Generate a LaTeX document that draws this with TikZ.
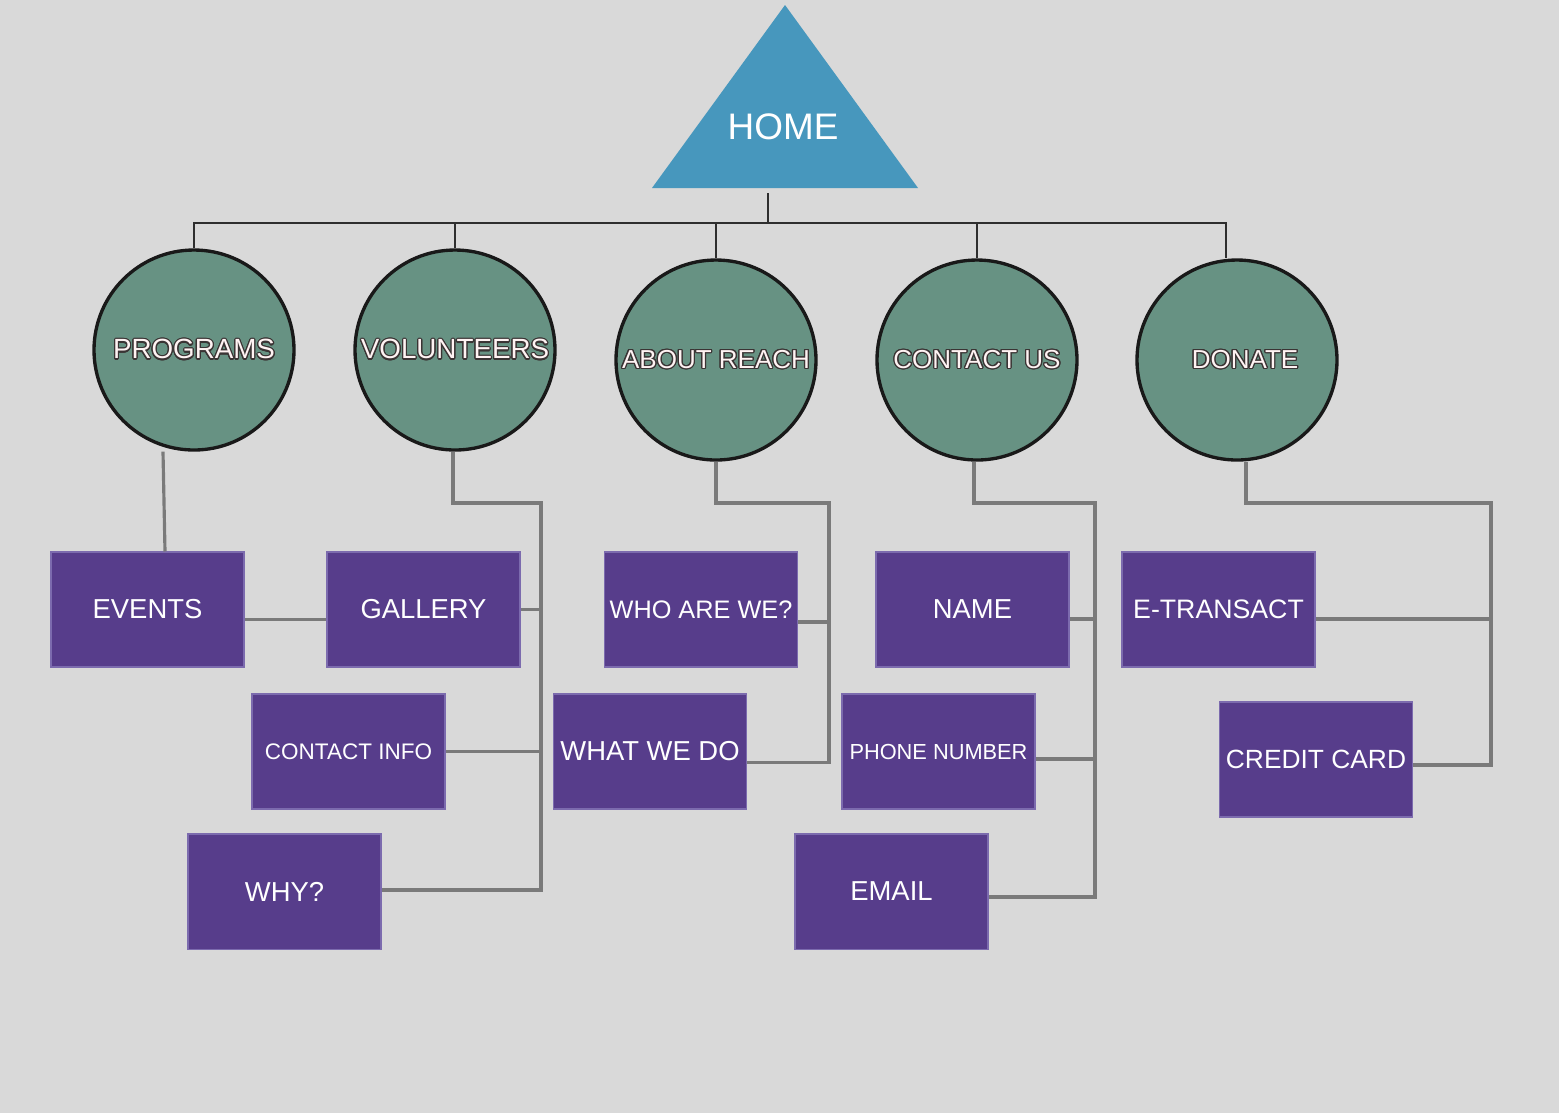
\documentclass[tikz,border=0pt]{standalone}
\usepackage{fontspec}
\setmainfont{Liberation Sans}
\usepackage{contour}
\contourlength{0.35pt}
\definecolor{bg}{HTML}{D9D9D9}
\definecolor{homeblue}{HTML}{4797BD}
\definecolor{topicgreen}{HTML}{679283}
\definecolor{pagepurple}{HTML}{573D8B}
\definecolor{pageedge}{HTML}{7C6BAE}
\definecolor{linkdark}{HTML}{2E2E2E}
\definecolor{linkgray}{HTML}{7A7A7A}
\definecolor{textrim}{HTML}{3A3434}
\definecolor{textpink}{HTML}{FFF3F3}
\tikzset{
	topic/.style={circle, draw=black!90, line width=0.95pt, fill=topicgreen, minimum size=2cm, inner sep=0pt, text=textpink, font=\fontsize{7.9}{9}\selectfont},
	smalltopic/.style={topic, font=\fontsize{7.4}{9}\selectfont},
	page/.style={rectangle, draw=pageedge, line width=0.3pt, fill=pagepurple, minimum width=1.93cm, minimum height=1.15cm, inner sep=0pt, text=white, font=\fontsize{7.8}{9}\selectfont},
	smallpage/.style={page, font=\fontsize{6.4}{8}\selectfont},
	mainlink/.style={draw=linkdark, line width=0.45pt},
	sublink/.style={draw=linkgray, line width=0.9pt}
}
\begin{document}
\begin{tikzpicture}
		\fill[bg] (0,0) rectangle (15.59,-11.13);
		\fill[homeblue] (7.85,-0.05) -- (9.18,-1.88) -- (6.52,-1.88) -- cycle;
		\node[text=white, font=\fontsize{10.5}{12}\selectfont] (home) at (7.83,-1.27) {HOME};
		\coordinate (homefoot) at (7.68,-1.93);
		\coordinate (bus) at (7.68,-2.23);
		\node[topic] (programs) at (1.94,-3.50) {\contour{textrim}{PROGRAMS}};
		\node[topic] (volunteers) at (4.55,-3.50) {\contour{textrim}{VOLUNTEERS}};
		\node[smalltopic] (about) at (7.16,-3.60) {\contour{textrim}{ABOUT REACH}};
		\node[smalltopic] (contact) at (9.77,-3.60) {\contour{textrim}{CONTACT US}};
		\node[smalltopic] (donate) at (12.37,-3.60) {\hspace*{0.16cm}\contour{textrim}{DONATE}};
		\node[page] (events) at (1.475,-6.095) {EVENTS};
		\node[page] (gallery) at (4.235,-6.095) {GALLERY};
		\node[smallpage] (info) at (3.485,-7.515) {CONTACT INFO};
		\node[page] (why) at (2.845,-8.915) {WHY?};
		\node[page, font=\fontsize{7.2}{9}\selectfont] (who) at (7.01,-6.095) {WHO ARE WE?};
		\node[page] (what) at (6.50,-7.515) {WHAT WE DO};
		\node[page] (name) at (9.725,-6.095) {NAME};
		\node[smallpage, font=\fontsize{6.2}{8}\selectfont] (phone) at (9.385,-7.515) {PHONE NUMBER};
		\node[page] (email) at (8.915,-8.915) {EMAIL};
		\node[page, font=\fontsize{7.6}{9}\selectfont] (etransact) at (12.185,-6.095) {E-TRANSACT};
		\node[page, font=\fontsize{7.5}{9}\selectfont] (credit) at (13.16,-7.595) {CREDIT CARD};
		\draw[mainlink] (homefoot) -- (bus);
		\draw[mainlink] (programs.north) |- (bus) -| ([xshift=-0.11cm]donate.north);
		\draw[mainlink] (volunteers.north) -- (volunteers.north |- bus);
		\draw[mainlink] (about.north) -- (about.north |- bus);
		\draw[mainlink] (contact.north) -- (contact.north |- bus);
		\draw[sublink] ([xshift=-0.31cm]programs.south) -- ([xshift=0.175cm]events.north);
		\draw[sublink] ([yshift=-0.1cm]events.east) -- ([yshift=-0.1cm]gallery.west);
		\coordinate (vbus) at (5.41,-5.03);
		\draw[sublink] ([xshift=-0.02cm]volunteers.south) |- (vbus) |- ([yshift=0.015cm]why.east);
		\draw[sublink] (gallery.east) -- (gallery.east -| vbus);
		\draw[sublink] (info.east) -- (info.east -| vbus);
		\coordinate (abus) at (8.29,-5.03);
		\draw[sublink] (about.south) |- (abus) |- ([yshift=-0.11cm]what.east);
		\draw[sublink] ([yshift=-0.125cm]who.east) -- ([yshift=-0.125cm]who.east -| abus);
		\coordinate (cbus) at (10.95,-5.03);
		\draw[sublink] ([xshift=-0.03cm]contact.south) |- (cbus) |- ([yshift=-0.055cm]email.east);
		\draw[sublink] ([yshift=-0.095cm]name.east) -- ([yshift=-0.095cm]name.east -| cbus);
		\draw[sublink] ([yshift=-0.075cm]phone.east) -- ([yshift=-0.075cm]phone.east -| cbus);
		\coordinate (dbus) at (14.91,-5.03);
		\draw[sublink] ([xshift=0.09cm]donate.south) |- (dbus) |- ([yshift=-0.055cm]credit.east);
		\draw[sublink] ([yshift=-0.095cm]etransact.east) -- ([yshift=-0.095cm]etransact.east -| dbus);
		\end{tikzpicture}
\end{document}
